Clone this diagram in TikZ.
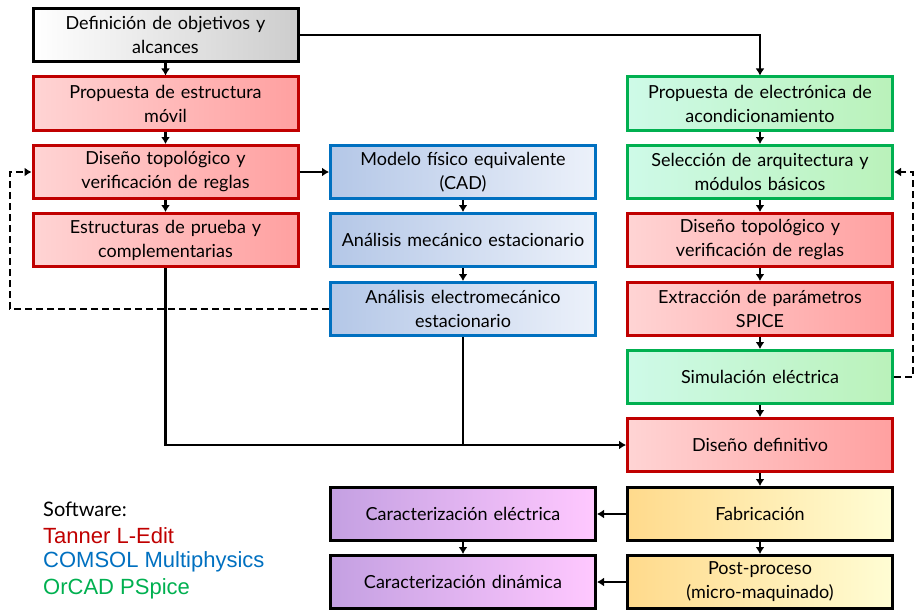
\documentclass[tikz,border=0pt]{standalone}
\usepackage{fontspec}
\setmainfont{Lato}
\newfontfamily\legendfont{Liberation Sans}
\usetikzlibrary{arrows.meta}

\definecolor{flRedLine}{RGB}{192,0,0}
\definecolor{flRedL}{RGB}{255,212,212}
\definecolor{flRedR}{RGB}{255,160,160}
\definecolor{flBlueLine}{RGB}{0,112,192}
\definecolor{flBlueL}{RGB}{180,199,231}
\definecolor{flBlueR}{RGB}{236,241,250}
\definecolor{flGreenLine}{RGB}{0,176,80}
\definecolor{flGreenL}{RGB}{206,250,232}
\definecolor{flGreenR}{RGB}{186,242,186}
\definecolor{flYellowL}{RGB}{255,218,140}
\definecolor{flYellowR}{RGB}{255,253,212}
\definecolor{flPurpleL}{RGB}{196,160,226}
\definecolor{flPurpleR}{RGB}{255,200,255}
\definecolor{flGrayR}{RGB}{205,205,205}

\begin{document}
\begin{tikzpicture}[x=1pt, y=-1pt,
    box/.style={rectangle, minimum width=265pt, minimum height=53pt,
        text width=258pt, align=center, inner sep=0pt, line width=3pt,
        font=\fontsize{18}{24}\selectfont},
    startbox/.style={box, draw=black, left color=white, right color=flGrayR},
    redbox/.style={box, draw=flRedLine, left color=flRedL, right color=flRedR},
    bluebox/.style={box, draw=flBlueLine, left color=flBlueL, right color=flBlueR},
    greenbox/.style={box, draw=flGreenLine, left color=flGreenL, right color=flGreenR},
    fabbox/.style={box, draw=black, left color=flYellowL, right color=flYellowR},
    testbox/.style={box, draw=black, left color=flPurpleL, right color=flPurpleR},
    link/.style={line width=2.8pt},
    arr/.style={link, -{Latex[length=7pt,width=9pt]}},
    loopback/.style={arr, dash pattern=on 7pt off 4pt},
    legend/.style={anchor=west, inner sep=0pt, font=\legendfont\fontsize{22}{26}\selectfont}]
\useasboundingbox (0,0) rectangle (919,610);
%% ── Left column: mechanical structure ────────────────────────────────────
\node[startbox] (obj)    at (165.5,35)  {Definición de objetivos y\\alcances};
\node[redbox]   (prop)   at (165.5,103.5) {Propuesta de estructura\\móvil};
\node[redbox]   (topoL)  at (165.5,172) {Diseño topológico y\\verificación de reglas};
\node[redbox]   (prueba) at (165.5,240) {Estructuras de prueba y\\complementarias};
%% ── Middle column: simulation ────────────────────────────────────────────
\node[bluebox] (cad)    at (463,172) {Modelo físico equivalente\\(CAD)};
\node[bluebox] (mec)    at (463,240) {Análisis mecánico estacionario};
\node[bluebox] (emec)   at (463,309) {Análisis electromecánico\\estacionario};
%% ── Right column: electronics ────────────────────────────────────────────
\node[greenbox] (elec)  at (760,103.5) {Propuesta de electrónica de\\acondicionamiento};
\node[greenbox] (arq)   at (760,172) {Selección de arquitectura y\\módulos básicos};
\node[redbox]   (topoR) at (760,240) {Diseño topológico y\\verificación de reglas};
\node[redbox]   (spice) at (760,309) {Extracción de parámetros\\SPICE};
\node[greenbox] (sim)   at (760,377) {Simulación eléctrica};
\node[redbox]   (defin) at (760,445) {Diseño definitivo};
\node[fabbox]   (fab)   at (760,514) {Fabricación};
\node[fabbox]   (post)  at (760,582) {Post-proceso\\(micro-maquinado)};
%% ── Characterisation ─────────────────────────────────────────────────────
\node[testbox] (carElec) at (463,514) {Caracterización eléctrica};
\node[testbox] (carDin)  at (463,582) {Caracterización dinámica};
%% ── Feedback corners ─────────────────────────────────────────────────────
\coordinate (lback) at (10,309);
\coordinate (rback) at (913,377);
%% ── Connectors ───────────────────────────────────────────────────────────
\draw[arr] (obj) -- (prop);
\draw[arr] (obj.east) -| (elec);
\draw[arr] (prop) -- (topoL);
\draw[arr] (topoL) -- (prueba);
\draw[arr] (topoL) -- (cad);
\draw[arr] (cad) -- (mec);
\draw[arr] (mec) -- (emec);
\draw[arr] (elec) -- (arq);
\draw[arr] (arq) -- (topoR);
\draw[arr] (topoR) -- (spice);
\draw[arr] (spice) -- (sim);
\draw[arr] (sim) -- (defin);
\draw[arr] (defin) -- (fab);
\draw[arr] (fab) -- (post);
\draw[arr] (fab) -- (carElec);
\draw[arr] (post) -- (carDin);
\draw[arr] (carElec) -- (carDin);
\draw[arr] (prueba.south) |- (defin.west);
\draw[link] (emec.south) -- (emec.south |- defin.west);
\draw[loopback] (emec.west) -- (lback) |- (topoL.west);
\draw[loopback] (sim.east) -- (rback) |- (arq.east);
%% ── Legend ───────────────────────────────────────────────────────────────
\node[legend] (sw)    at (43,509) {\rmfamily\fontsize{20}{24}\selectfont Software:};
\node[legend, text=flRedLine]   (tanner) at (43,536) {Tanner L-Edit};
\node[legend, text=flBlueLine]  (comsol) at (43,562) {COMSOL Multiphysics};
\node[legend, text=flGreenLine] (orcad)  at (43,589) {OrCAD PSpice};
\end{tikzpicture}
\end{document}
